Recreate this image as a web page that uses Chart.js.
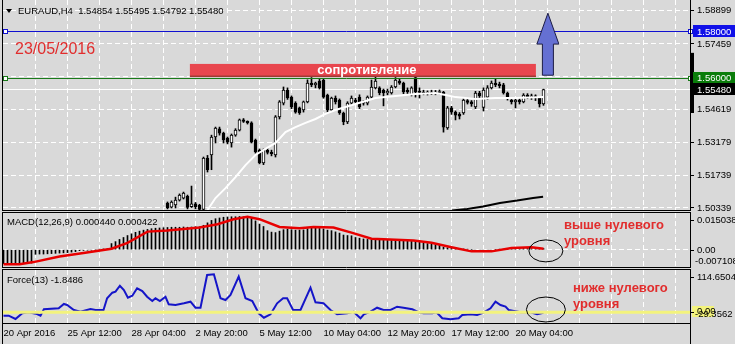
<!DOCTYPE html>
<html><head><meta charset="utf-8">
<script src="https://cdn.jsdelivr.net/npm/chart.js@4.4.1/dist/chart.umd.min.js"></script>
<style>
html,body{margin:0;padding:0;background:#d9d9d9;overflow:hidden;}
#wrap{position:relative;width:735px;height:344px;}
canvas{position:absolute;left:0;}
</style></head><body>
<div id="wrap">
<canvas id="cMain" width="735" height="211" style="top:0px"></canvas>
<canvas id="cMacd" width="735" height="56" style="top:212px"></canvas>
<canvas id="cForce" width="735" height="75" style="top:269px"></canvas>
</div>
<script>
// ---------------- DATA ----------------
const symbolTitle = 'EURAUD,H4  1.54854 1.55495 1.54792 1.55480';
const dateText = '23/05/2016';
const timeLabels = ['20 Apr 2016','25 Apr 12:00','28 Apr 04:00','2 May 20:00','5 May 12:00','10 May 04:00','12 May 20:00','17 May 12:00','20 May 04:00'];
const priceTicks = [1.50339,1.51739,1.53179,1.54619,1.56039,1.57459,1.58899];

const candleStart = 41; // earlier bars are below the visible price range
const opens  = [1.5055,1.5038,1.5047,1.5068,1.5077,1.5085,1.5040,1.5052,1.5045,1.5028,1.5251,1.5264,1.5342,1.5377,1.5359,1.5337,1.5316,1.5350,1.5372,1.5416,1.5410,1.5403,1.5329,1.5285,1.5229,1.5285,1.5275,1.5264,1.5429,1.5489,1.5546,1.5515,1.5489,1.5468,1.5459,1.5494,1.5576,1.5568,1.5585,1.5589,1.5524,1.5459,1.5511,1.5502,1.5446,1.5407,1.5489,1.5502,1.5515,1.5489,1.5489,1.5515,1.5555,1.5555,1.5546,1.5533,1.5533,1.5559,1.5585,1.5576,1.5546,1.5524,1.5600,1.5540,1.5535,1.5533,1.5535,1.5533,1.5535,1.5537,1.5381,1.5468,1.5450,1.5440,1.5446,1.5500,1.5494,1.5472,1.5533,1.5470,1.5515,1.5555,1.5576,1.5572,1.5568,1.5533,1.5502,1.5494,1.5502,1.5494,1.5524,1.5515,1.5520,1.5511,1.54854];
const highs  = [1.5060,1.5065,1.5081,1.5095,1.5103,1.5090,1.5129,1.5058,1.5050,1.5255,1.5262,1.5350,1.5385,1.5385,1.5363,1.5342,1.5355,1.5378,1.5420,1.5422,1.5412,1.5408,1.5333,1.5290,1.5290,1.5292,1.5285,1.5435,1.5500,1.5559,1.5555,1.5520,1.5495,1.5472,1.5498,1.5590,1.5600,1.5580,1.5592,1.5594,1.5528,1.5515,1.5520,1.5507,1.5450,1.5495,1.5520,1.5510,1.5525,1.5500,1.5520,1.5589,1.5610,1.5560,1.5550,1.5550,1.5565,1.5600,1.5595,1.5580,1.5555,1.5560,1.5605,1.5555,1.5545,1.5542,1.5545,1.5544,1.5546,1.5540,1.5475,1.5475,1.5455,1.5448,1.5510,1.5508,1.5500,1.5540,1.5540,1.5555,1.5565,1.5585,1.5595,1.5580,1.5575,1.5537,1.5505,1.5510,1.5510,1.5530,1.5530,1.5528,1.5525,1.5515,1.55495];
const lows   = [1.5030,1.5034,1.5034,1.5064,1.5073,1.5030,1.5036,1.5030,1.5022,1.5022,1.5190,1.5200,1.5316,1.5350,1.5316,1.5312,1.5298,1.5345,1.5368,1.5405,1.5398,1.5316,1.5272,1.5225,1.5222,1.5268,1.5260,1.5255,1.5420,1.5481,1.5505,1.5465,1.5445,1.5440,1.5450,1.5490,1.5560,1.5555,1.5550,1.5510,1.5450,1.5455,1.5485,1.5440,1.5395,1.5400,1.5481,1.5485,1.5465,1.5480,1.5481,1.5511,1.5550,1.5525,1.5477,1.5525,1.5528,1.5555,1.5570,1.5530,1.5530,1.5520,1.5515,1.5511,1.5525,1.5524,1.5526,1.5525,1.5527,1.5363,1.5375,1.5440,1.5416,1.5420,1.5440,1.5485,1.5475,1.5465,1.5510,1.5455,1.5505,1.5550,1.5560,1.5555,1.5528,1.5502,1.5485,1.5468,1.5485,1.5490,1.5508,1.5505,1.5500,1.5472,1.54792];
const closes = [1.5034,1.5060,1.5068,1.5090,1.5099,1.5036,1.5052,1.5040,1.5028,1.5251,1.5200,1.5342,1.5381,1.5359,1.5329,1.5320,1.5350,1.5372,1.5416,1.5410,1.5403,1.5320,1.5277,1.5229,1.5285,1.5275,1.5270,1.5429,1.5494,1.5546,1.5511,1.5472,1.5450,1.5446,1.5494,1.5576,1.5568,1.5576,1.5555,1.5515,1.5459,1.5511,1.5494,1.5446,1.5407,1.5489,1.5511,1.5494,1.5472,1.5494,1.5515,1.5559,1.5585,1.5533,1.5533,1.5540,1.5559,1.5589,1.5576,1.5537,1.5537,1.5555,1.5537,1.5535,1.5533,1.5535,1.5533,1.5535,1.5537,1.5385,1.5468,1.5450,1.5437,1.5432,1.5502,1.5492,1.5485,1.5533,1.5520,1.5546,1.5555,1.5576,1.5568,1.5565,1.5533,1.5511,1.5494,1.5502,1.5494,1.5524,1.5515,1.5520,1.5511,1.5485,1.55480];

const maFastIdx = [51,53,55.5,58,60.5,63,65.5,68,70.5,73,75.5,78,80.5,83,85.5,88,90.5,93,98,103,108,110.5,113,118,123,128,135];
const maFastVal = [1.5025,1.5077,1.5120,1.5168,1.5220,1.5264,1.5290,1.5316,1.5363,1.5385,1.5403,1.5420,1.5442,1.5459,1.5472,1.5485,1.5498,1.5511,1.5520,1.5528,1.5533,1.5524,1.5515,1.5507,1.5511,1.5511,1.5515];
const maSlowIdx = [112.1,115.9,119.9,124.1,128.4,132.4,134.9];
const maSlowVal = [1.5023,1.5030,1.5040,1.5056,1.5066,1.5077,1.5083];

const levelTarget = 1.58000, levelResist = 1.56000, lastClose = 1.55480;
const zoneLow = 1.5602, zoneHigh = 1.5659, zoneFrom = 46.6, zoneTo = 133.1;
const zoneText = 'сопротивление';
const arrowBar = 136.1, arrowFrom = 1.5610, arrowNeck = 1.5745, arrowTip = 1.5879;
const sideBar = [1.5446, 1.5707];

const macdTitle = 'MACD(12,26,9) 0.000440 0.000422';
const macdMin = -0.007108, macdMax = 0.015038;
const macdHist = [-0.0057,-0.0057,-0.0056,-0.0056,-0.0056,-0.0055,-0.0055,-0.0055,
 -0.0019,-0.0018,-0.0018,-0.0017,-0.0016,-0.0015,-0.0014,-0.0013,-0.0012,-0.0010,-0.0008,
 -0.0004,-0.0003,-0.0002,-0.0002,-0.0001,0.0002,0.0003,0.0004,
 0.0025,0.0033,0.0042,0.0050,0.0058,0.0065,0.0071,0.0076,0.0080,0.0083,
 0.0086,0.0088,0.0089,0.0090,0.0091,0.0092,0.0092,0.0092,0.0093,0.0092,0.0093,0.0094,0.0094,
 0.0100,0.0110,0.0120,0.0127,0.0130,0.0133,0.0134,0.0135,0.0135,0.0136,0.0135,0.0132,0.0128,
 0.0118,0.0105,0.0095,0.0078,0.0072,0.0070,0.0076,
 0.0082,0.0084,0.0082,0.0080,0.0080,0.0081,0.0086,0.0088,0.0088,0.0087,0.0085,0.0080,0.0078,0.0073,0.0068,0.0060,0.0058,0.0057,
 0.0050,0.0047,0.0044,0.0042,
 0.0040,0.0041,0.0040,0.0039,0.0038,0.0039,0.0040,0.0039,0.0037,0.0036,0.0036,0.0034,
 0.0030,0.0027,0.0025,0.0023,0.0021,0.0019,
 0.0010,0.0008,0.0005,0.0003,0.0002,0.0003,0.0002,0.0000,
 -0.0002,-0.0003,-0.0004,-0.0003,-0.0002,
 0.0000,0.0002,0.0002,0.0001,0.0002,0.0003,0.0004,0.0005,0.0005,0.0004,0.0004,0.0003,0.00044];
const macdSigIdx = [0,4,7.5,14,20,27,31,36,41,49,53.5,57.5,61,64,69,74,77.5,82.5,87,92,102.5,107,112,117,122,127,132,135];
const macdSigVal = [-0.0060,-0.0060,-0.0051,-0.0028,-0.0014,0.0004,0.0028,0.0074,0.0079,0.0091,0.0104,0.0125,0.0135,0.0125,0.0093,0.0088,0.0093,0.0091,0.0070,0.0045,0.0038,0.0028,0.0010,-0.0007,-0.0007,0.0007,0.0010,0.000422];

const forceTitle = 'Force(13) -1.8486';
const forceMin = -29.3562, forceMax = 114.6504;
const forceIdx = [0,1.3,3,4.7,6.25,8.4,9.25,10.1,13.8,15.1,15.9,17.6,19.25,21.75,23,25,25.9,27.2,28,29.1,30.1,31.1,32.2,33.4,34.7,35.9,37.2,38,39.1,40.5,41.3,43,45.1,46.75,48,49.25,50.9,52.6,54.25,55.5,56.75,58.8,60.5,62.2,63.8,65.1,66.75,68.4,69.9,70.9,72.4,74.25,76.75,78,80,81.75,83.4,85.9,87.5,89.25,90.1,91.75,93.4,95,96.75,98.4,100,102.2,103.75,105,107.2,108.25,109.7,111.75,113.8,114.7,116.75,118.4,120,121.75,123,124.25,125.5,126.3,129.25,131.75,133.4,135];
const forceVal = [-9.5,-9.5,-18.5,-3,0,-4.9,-9.5,7.9,10.6,22.3,19.6,6,1,8.7,6,6,37.8,53,55.7,72,60.3,39.4,44.8,65,57.6,42,30.4,37.8,30.4,42,21.5,19.6,24.2,28.5,12.2,12.2,101,103,37.8,33.1,46.7,96.5,37.8,30.4,-3,-15,-5.7,24.2,37.8,37.8,6,6,66.6,26.9,24.2,6,-5.7,-3,1,-16.6,-5.7,1.4,12.2,6,6,15,12.2,7.9,0,-3,-3,0,-16.6,-19.3,-16.6,-7.6,-5.7,-7.6,-1.4,10.6,28.5,19.6,15,6,0,0,-5.7,-1.8486];

const noteMacd = ['выше нулевого','уровня'];
const noteForce = ['ниже нулевого','уровня'];
const macdCircle = [135.6, -0.0005];
const forceCircle = [135.6, 7.3];

// ---------------- STYLE / LAYOUT ----------------
const F = '"Liberation Sans", Arial, sans-serif';
const FS = 9.5;
const RED_TXT = '#e12d2d';
const GRID_DASH = [5, 3];
const X_MIN = -0.125, X_MAX = X_MIN + 687 / 4;
const gridIdx = []; for (let v = 0; v <= 168; v += 8) gridIdx.push(v);
const pts = (xs, ys) => xs.map((x, k) => ({x, y: ys[k]}));
const CLEAR = 'rgba(0,0,0,0)';

function xScale(showLabels) {
  return {
    type: 'linear', min: X_MIN, max: X_MAX, offset: false,
    afterBuildTicks: s => { s.ticks = gridIdx.map(v => ({value: v})); },
    afterFit: s => { s.height = showLabels ? 21 : 0; s.paddingLeft = 0; s.paddingRight = 0; },
    grid: { offset: false, drawTicks: false, lineWidth: 1, color: CLEAR },
    border: { display: false },
    ticks: { display: showLabels, align: 'start', maxRotation: 0, minRotation: 0, autoSkip: false, padding: 5,
             font: {family: F, size: FS}, color: '#000',
             callback: v => (v % 16 === 0 && timeLabels[v / 16]) ? timeLabels[v / 16] : '' }
  };
}
function yScale(min, max, ticks, showLabels, fmt) {
  return {
    position: 'right', min, max,
    afterBuildTicks: s => { s.ticks = ticks.map(v => ({value: v})); },
    afterFit: s => { s.width = 45; s.paddingTop = 0; s.paddingBottom = 0; },
    grid: { color: CLEAR, lineWidth: 1, drawTicks: showLabels, tickLength: 4, tickColor: '#000', tickWidth: 1 },
    border: { display: false },
    ticks: { display: showLabels, padding: 3, font: {family: F, size: FS}, color: '#000', callback: fmt }
  };
}
// dashed white grid drawn from the scales' own ticks
const dashGrid = {
  id: 'dashGrid',
  beforeDatasetsDraw(chart) {
    const {ctx, chartArea: a, scales: {x, y}} = chart;
    ctx.save(); ctx.strokeStyle = '#ffffff'; ctx.lineWidth = 1; ctx.setLineDash(GRID_DASH);
    ctx.beginPath();
    x.ticks.forEach(t => { if (t.value === 0) return; const px = Math.round(x.getPixelForValue(t.value) - 0.5) + 0.5;
      ctx.moveTo(px, a.top); ctx.lineTo(px, a.bottom); });
    y.ticks.forEach(t => { const py = Math.round(y.getPixelForValue(t.value) - 0.5) + 0.5;
      ctx.moveTo(a.left, py); ctx.lineTo(a.right, py); });
    ctx.stroke(); ctx.restore();
  }
};
const baseOpts = (pad) => ({
  responsive: false, animation: false, devicePixelRatio: 1, events: [],
  layout: { padding: pad },
  plugins: { legend: {display: false}, tooltip: {enabled: false} }
});
function frame(ctx, a, top, bottom) {
  ctx.save(); ctx.strokeStyle = '#000'; ctx.lineWidth = 1; ctx.setLineDash([]);
  ctx.beginPath();
  ctx.moveTo(a.left - 0.5, top); ctx.lineTo(a.left - 0.5, bottom);
  ctx.moveTo(a.right + 0.5, top); ctx.lineTo(a.right + 0.5, bottom);
  ctx.stroke(); ctx.restore();
}
function hline(ctx, a, yPix) {
  ctx.beginPath(); ctx.moveTo(a.left - 1, yPix); ctx.lineTo(a.right + 1, yPix); ctx.stroke();
}

// ---------------- MAIN PRICE CHART ----------------
const mainDeco = {
  id: 'mainDeco',
  beforeDatasetsDraw(chart) {
    const {ctx, chartArea: a, scales: {y}} = chart;
    ctx.save(); ctx.strokeStyle = '#ffffff'; ctx.lineWidth = 1;
    const py = Math.round(y.getPixelForValue(lastClose)) + 0.5;
    ctx.beginPath(); ctx.moveTo(a.left, py); ctx.lineTo(a.right, py); ctx.stroke();
    ctx.restore();
  },
  afterDatasetsDraw(chart) {
    const {ctx, chartArea: a, scales: {x, y}} = chart;
    ctx.save();
    [[levelTarget, '#1010d0'], [levelResist, '#1a7a1a']].forEach(([v, c]) => {
      const py = Math.round(y.getPixelForValue(v)) + 0.5;
      ctx.strokeStyle = c; ctx.lineWidth = 1;
      ctx.beginPath(); ctx.moveTo(a.left, py); ctx.lineTo(a.right, py); ctx.stroke();
      [a.left, a.right - 2].forEach(xl => {
        ctx.fillStyle = '#ffffff'; ctx.fillRect(xl, py - 2.5, 5, 5);
        ctx.strokeRect(xl + 0.5, py - 2, 4, 4);
      });
    });
    const zx0 = x.getPixelForValue(zoneFrom), zx1 = x.getPixelForValue(zoneTo);
    const zy0 = y.getPixelForValue(zoneHigh), zy1 = y.getPixelForValue(zoneLow);
    ctx.fillStyle = '#e8464e'; ctx.fillRect(zx0, zy0, zx1 - zx0, zy1 - zy0);
    ctx.fillStyle = '#9c3a34'; ctx.fillRect(zx0, zy1 - 1.5, zx1 - zx0, 1.5);
    ctx.fillStyle = '#ffffff'; ctx.font = 'bold 13px ' + F; ctx.textAlign = 'center'; ctx.textBaseline = 'middle';
    ctx.fillText(zoneText, (zx0 + zx1) / 2 + 4, (zy0 + zy1) / 2);
    const ax = x.getPixelForValue(arrowBar);
    const yb = y.getPixelForValue(arrowFrom), yn = y.getPixelForValue(arrowNeck), yt = y.getPixelForValue(arrowTip);
    ctx.beginPath();
    ctx.moveTo(ax - 5.5, yb); ctx.lineTo(ax - 5.5, yn); ctx.lineTo(ax - 11, yn); ctx.lineTo(ax, yt);
    ctx.lineTo(ax + 11, yn); ctx.lineTo(ax + 5.5, yn); ctx.lineTo(ax + 5.5, yb); ctx.closePath();
    ctx.fillStyle = '#6570d2'; ctx.fill(); ctx.strokeStyle = '#1c1c44'; ctx.lineWidth = 1; ctx.stroke();
    ctx.fillStyle = '#000';
    ctx.beginPath(); ctx.moveTo(6, 9); ctx.lineTo(12, 9); ctx.lineTo(9, 13); ctx.closePath(); ctx.fill();
    ctx.font = FS + 'px ' + F; ctx.textAlign = 'left'; ctx.textBaseline = 'middle';
    ctx.fillText(symbolTitle, 18, 11);
    ctx.fillStyle = RED_TXT; ctx.font = '16px ' + F; ctx.textBaseline = 'alphabetic';
    ctx.fillText(dateText, 15, 54);
    ctx.restore();
  },
  afterDraw(chart) {
    const {ctx, chartArea: a, scales: {y}} = chart;
    frame(ctx, a, 0, a.bottom + 1);
    ctx.save(); ctx.strokeStyle = '#000'; ctx.lineWidth = 1;
    hline(ctx, a, a.bottom + 0.5);
    const s0 = y.getPixelForValue(sideBar[1]), s1 = y.getPixelForValue(sideBar[0]);
    ctx.fillStyle = '#000'; ctx.fillRect(a.right, s0, 4, s1 - s0);
    ctx.font = FS + 'px ' + F; ctx.textAlign = 'left'; ctx.textBaseline = 'middle';
    [[levelTarget, '#1010e8'], [levelResist, '#0a7d0a'], [lastClose, '#000000']].forEach(([v, bg]) => {
      const py = y.getPixelForValue(v);
      ctx.fillStyle = bg; ctx.fillRect(a.right + 3, Math.round(py) - 6, 45, 12);
      ctx.fillStyle = '#ffffff'; ctx.fillText(v.toFixed(5), a.right + 7, py + 0.5);
    });
    ctx.restore();
  }
};

new Chart(document.getElementById('cMain'), {
  type: 'bar',
  data: { datasets: [
    { type: 'line', data: pts(maFastIdx, maFastVal), borderColor: '#ffffff', borderWidth: 2, pointRadius: 0, tension: 0 },
    { type: 'line', data: pts(maSlowIdx, maSlowVal), borderColor: '#000000', borderWidth: 2, pointRadius: 0, tension: 0 },
    { type: 'bar', data: opens.map((o, k) => ({x: candleStart + k, y: [o, closes[k]]})),
      backgroundColor: c => closes[c.dataIndex] >= opens[c.dataIndex] ? '#ffffff' : '#000000',
      borderColor: '#000', borderWidth: 1, borderSkipped: false, barThickness: 3, minBarLength: 1, grouped: false },
    { type: 'bar', data: opens.map((o, k) => ({x: candleStart + k, y: [lows[k], highs[k]]})),
      backgroundColor: '#000', borderWidth: 0, barThickness: 1, grouped: false }
  ]},
  options: Object.assign(baseOpts({left: 3, right: 0, top: 0, bottom: 1}), {
    scales: {
      x: xScale(false),
      y: yScale(1.50252, 1.59363, priceTicks, true, v => v.toFixed(5))
    }
  }),
  plugins: [dashGrid, mainDeco]
});

// ---------------- PANELS ----------------
function panelDeco(id, opt) {
  return {
    id,
    afterDatasetsDraw(chart) {
      const {ctx, chartArea: a, scales: {x, y}} = chart;
      ctx.save();
      if (opt.level) {
        ctx.strokeStyle = '#f3f37c'; ctx.lineWidth = 3;
        const py = y.getPixelForValue(0);
        ctx.beginPath(); ctx.moveTo(a.left, py); ctx.lineTo(a.right, py); ctx.stroke();
      }
      ctx.fillStyle = '#000'; ctx.font = FS + 'px ' + F; ctx.textAlign = 'left'; ctx.textBaseline = 'middle';
      ctx.fillText(opt.title, 7, a.top + opt.titleDy);
      const cx = x.getPixelForValue(opt.circle[0]), cy = y.getPixelForValue(opt.circle[1]);
      ctx.strokeStyle = '#000'; ctx.lineWidth = 1;
      ctx.beginPath(); ctx.ellipse(cx, cy, opt.rx, opt.ry, 0, 0, Math.PI * 2); ctx.stroke();
      ctx.fillStyle = RED_TXT; ctx.font = 'bold 13px ' + F;
      ctx.fillText(opt.note[0], cx + opt.noteDx, cy + opt.noteDy[0]);
      ctx.fillText(opt.note[1], cx + opt.noteDx, cy + opt.noteDy[1]);
      ctx.restore();
    },
    afterDraw(chart) {
      const {ctx, chartArea: a, scales: {y}} = chart;
      frame(ctx, a, 0, chart.height);
      ctx.save(); ctx.strokeStyle = '#000'; ctx.lineWidth = 1;
      hline(ctx, a, a.top - 0.5); hline(ctx, a, a.bottom + 0.5);
      ctx.font = FS + 'px ' + F; ctx.textAlign = 'left'; ctx.textBaseline = 'middle';
      const py0 = y.getPixelForValue(0);
      if (opt.level) { ctx.fillStyle = '#f3f37c'; ctx.fillRect(a.right + 2, Math.round(py0) - 6, 22, 11); }
      ctx.fillStyle = '#000';
      ctx.fillText(opt.maxText, a.right + 7, a.top + 7);
      ctx.fillText('0.00', a.right + 7, py0 + opt.zeroDy);
      ctx.fillText(opt.minText, a.right + 5, a.bottom + opt.minDy);
      [a.top + 7, py0].forEach(p => { ctx.beginPath(); ctx.moveTo(a.right, Math.round(p) + 0.5); ctx.lineTo(a.right + 4, Math.round(p) + 0.5); ctx.stroke(); });
      ctx.restore();
    }
  };
}

new Chart(document.getElementById('cMacd'), {
  type: 'bar',
  data: { datasets: [
    { type: 'line', data: pts(macdSigIdx, macdSigVal), borderColor: '#e80000', borderWidth: 2.5, pointRadius: 0, tension: 0 },
    { type: 'bar', data: macdHist.map((v, i) => ({x: i, y: v})), backgroundColor: '#000', borderWidth: 0, barThickness: 1, grouped: false }
  ]},
  options: Object.assign(baseOpts({left: 3, right: 0, top: 1, bottom: 1}), {
    scales: { x: xScale(false), y: yScale(macdMin, macdMax, [0], false) }
  }),
  plugins: [dashGrid, panelDeco('macdDeco', {
    title: macdTitle, titleDy: 9, circle: macdCircle, rx: 17, ry: 11,
    note: noteMacd, noteDx: 18, noteDy: [-25, -9],
    maxText: macdMax.toFixed(6), minText: macdMin.toFixed(6), zeroDy: 0.5, minDy: -6
  })]
});

new Chart(document.getElementById('cForce'), {
  type: 'line',
  data: { datasets: [
    { data: pts(forceIdx, forceVal), borderColor: '#1515c8', borderWidth: 2, pointRadius: 0, tension: 0 }
  ]},
  options: Object.assign(baseOpts({left: 3, right: 0, top: 1, bottom: 0}), {
    scales: { x: xScale(true), y: yScale(forceMin, forceMax, [0], false) }
  }),
  plugins: [dashGrid, panelDeco('forceDeco', {
    level: true, title: forceTitle, titleDy: 10, circle: forceCircle, rx: 19.5, ry: 12.5,
    note: noteForce, noteDx: 27, noteDy: [-21.5, -5.5],
    maxText: forceMax.toFixed(4), minText: forceMin.toFixed(4), zeroDy: -1, minDy: -9
  })]
});
</script>
</body></html>
